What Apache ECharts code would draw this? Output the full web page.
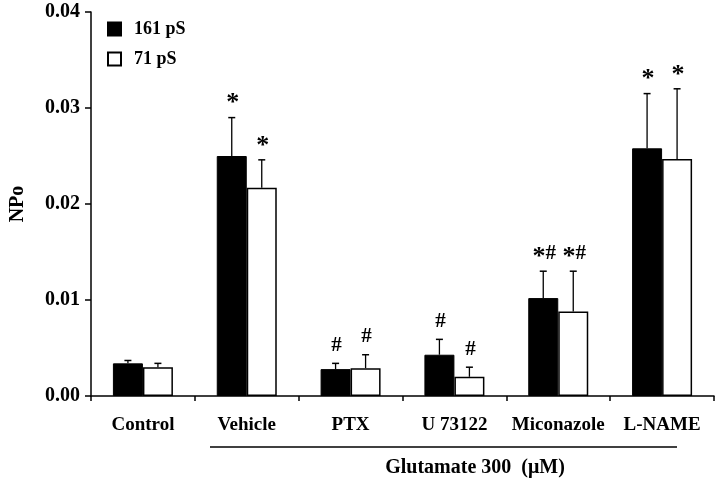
<!DOCTYPE html>
<html>
<head>
<meta charset="utf-8">
<script src="https://cdn.jsdelivr.net/npm/echarts@6/dist/echarts.min.js"></script>
<style>html,body{margin:0;padding:0;background:#fff;}#c{width:720px;height:482px;}</style>
</head>
<body>
<div id="c"></div>
<script>
const categories = ['Control', 'Vehicle', 'PTX', 'U 73122', 'Miconazole', 'L-NAME'];
const npo161 = [0.0034, 0.0250, 0.0028, 0.0043, 0.0102, 0.0258];
const err161 = [0.0003, 0.0040, 0.0006, 0.0016, 0.0028, 0.0057];
const npo71 = [0.0030, 0.0217, 0.0029, 0.0020, 0.0088, 0.0247];
const err71 = [0.0004, 0.0029, 0.0014, 0.0010, 0.0042, 0.0073];
const marks161 = ['', '*', '#', '#', '*#', '*'];
const marks71 = ['', '*', '#', '#', '*#', '*'];
const yTicks = [0, 0.01, 0.02, 0.03, 0.04];

const FONT = "'Liberation Serif', 'DejaVu Serif', serif";
const BAR_W = 30;

function errSeries(name, vals, errs, marks, dx) {
  return {
    type: 'custom',
    name: name + ' err',
    z: 5,
    data: vals.map((v, i) => [i, v, errs[i]]),
    renderItem: function (params, api) {
      const i = api.value(0), v = api.value(1), e = api.value(2);
      const mark = marks[i];
      const base = api.coord([i, v]);
      const top = api.coord([i, v + e]);
      const x = base[0] + dx;
      const children = [
        { type: 'line', shape: { x1: x, y1: base[1], x2: x, y2: top[1] }, style: { stroke: '#000', lineWidth: 1.3 } },
        { type: 'line', shape: { x1: x - 3.5, y1: top[1], x2: x + 3.5, y2: top[1] }, style: { stroke: '#000', lineWidth: 1.5 } }
      ];
      if (mark) {
        const rich = mark.split('').map(ch => ch === '*' ? '{s|*}' : '{h|#}').join('');
        children.push({
          type: 'text',
          style: {
            x: x + 1, y: top[1] - 18, text: rich,
            fill: '#000',
            align: 'center', verticalAlign: 'middle',
            rich: {
              s: { font: 'bold 26px ' + FONT, fill: '#000', padding: [8, 0, 0, 0] },
              h: { font: 'bold 21px ' + FONT, fill: '#000' }
            }
          }
        });
      }
      return { type: 'group', children: children };
    }
  };
}

const chart = echarts.init(document.getElementById('c'), null, { renderer: 'canvas' });
chart.setOption({
  animation: false,
  backgroundColor: '#fff',
  textStyle: { fontFamily: FONT },
  grid: { left: 82, right: 6, top: 12, bottom: 86 },
  legend: {
    orient: 'vertical',
    left: 102, top: 15,
    itemWidth: 13, itemHeight: 13, itemGap: 12,
    icon: 'rect',
    data: ['161 pS', '71 pS'],
    textStyle: { fontFamily: FONT, fontWeight: 'bold', fontSize: 18, color: '#000', padding: [5, 0, 0, 8] }
  },
  xAxis: {
    type: 'category',
    data: categories,
    boundaryGap: true,
    axisLine: { lineStyle: { color: '#000', width: 1.5 } },
    axisTick: { show: true, length: 5, lineStyle: { color: '#000', width: 1.5 } },
    axisLabel: { color: '#000', fontFamily: FONT, fontWeight: 'bold', fontSize: 19, margin: 20, interval: 0 },
    splitLine: { show: false }
  },
  yAxis: {
    type: 'value',
    min: yTicks[0], max: yTicks[yTicks.length - 1], interval: 0.01,
    name: 'NPo',
    nameLocation: 'middle',
    nameGap: 63,
    nameRotate: 90,
    nameTextStyle: { color: '#000', fontFamily: FONT, fontWeight: 'bold', fontSize: 20 },
    axisLine: { show: true, lineStyle: { color: '#000', width: 1.5 } },
    axisTick: { show: true, length: 6, lineStyle: { color: '#000', width: 1.5 } },
    axisLabel: { color: '#000', fontFamily: FONT, fontWeight: 'bold', fontSize: 20, margin: 11,
      formatter: v => v.toFixed(2) },
    splitLine: { show: false }
  },
  series: [
    {
      type: 'bar', name: '161 pS', data: npo161, barWidth: BAR_W, barGap: '0%',
      itemStyle: { color: '#000', borderColor: '#000', borderWidth: 1 }
    },
    {
      type: 'bar', name: '71 pS', data: npo71, barWidth: BAR_W, barGap: '0%',
      itemStyle: { color: '#fff', borderColor: '#000', borderWidth: 1.5 }
    },
    errSeries('161 pS', npo161, err161, marks161, -BAR_W / 2),
    errSeries('71 pS', npo71, err71, marks71, BAR_W / 2)
  ],
  graphic: [
    { type: 'line', shape: { x1: 210, y1: 447, x2: 677, y2: 447 }, style: { stroke: '#000', lineWidth: 1.5 } },
    { type: 'text', x: 475, y: 468, style: { text: 'Glutamate 300  (\u03bcM)', fill: '#000',
      font: 'bold 20px ' + FONT, align: 'center', verticalAlign: 'middle' } }
  ]
});
</script>
</body>
</html>
